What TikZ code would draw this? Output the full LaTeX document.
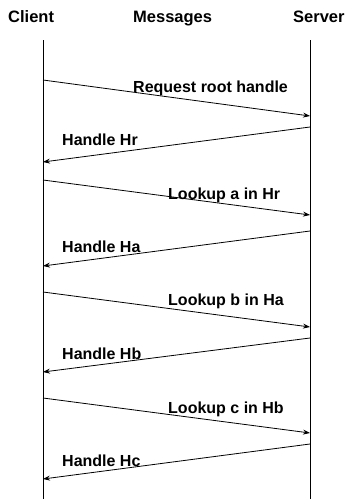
\documentclass[tikz,border=0pt]{standalone}
\usepackage{fontspec}
\setmainfont{Liberation Sans}
\usetikzlibrary{arrows.meta}
\begin{document}
\begin{tikzpicture}[x=1pt,y=-1pt,
  hdr/.style={anchor=base west,inner sep=0pt,font=\fontsize{16.5}{18}\selectfont\bfseries},
  lbl/.style={anchor=base west,inner sep=0pt,font=\fontsize{16}{18}\selectfont\bfseries},
  life/.style={line width=0.9pt},
  msg/.style={line width=0.8pt,-{Stealth[length=7pt,width=5pt]}}]
\useasboundingbox (0,0) rectangle (349,499);
% headers
\node[hdr] (hc) at (8,22.7) {Client};
\node[hdr] (hm) at (133,22.7) {Messages};
\node[hdr] (hs) at (293,22.7) {Server};
% lifelines
\coordinate (ct) at (43,40); \coordinate (cb) at (43,499);
\coordinate (st) at (310,40); \coordinate (sb) at (310,499);
\draw[life] (ct) -- (cb);
\draw[life] (st) -- (sb);
% endpoints
\coordinate (c1) at (43,80);  \coordinate (s1) at (310,116);
\coordinate (s2) at (310,127); \coordinate (c2) at (43,162);
\coordinate (c3) at (43,180); \coordinate (s3) at (310,215);
\coordinate (s4) at (310,231); \coordinate (c4) at (43,266);
\coordinate (c5) at (43,292); \coordinate (s5) at (310,327);
\coordinate (s6) at (310,338); \coordinate (c6) at (43,372);
\coordinate (c7) at (43,398); \coordinate (s7) at (310,433);
\coordinate (s8) at (310,444); \coordinate (c8) at (43,479);
\draw[msg] (c1) -- (s1);
\draw[msg] (s2) -- (c2);
\draw[msg] (c3) -- (s3);
\draw[msg] (s4) -- (c4);
\draw[msg] (c5) -- (s5);
\draw[msg] (s6) -- (c6);
\draw[msg] (c7) -- (s7);
\draw[msg] (s8) -- (c8);
% labels
\node[lbl] (l1) at (133,92) {Request root handle};
\node[lbl] (l2) at (62,145) {Handle Hr};
\node[lbl] (l3) at (168,199) {Lookup a in Hr};
\node[lbl] (l4) at (62,252) {Handle Ha};
\node[lbl] (l5) at (168,305) {Lookup b in Ha};
\node[lbl] (l6) at (62,359) {Handle Hb};
\node[lbl] (l7) at (168,413) {Lookup c in Hb};
\node[lbl] (l8) at (62,466) {Handle Hc};
\end{tikzpicture}
\end{document}
